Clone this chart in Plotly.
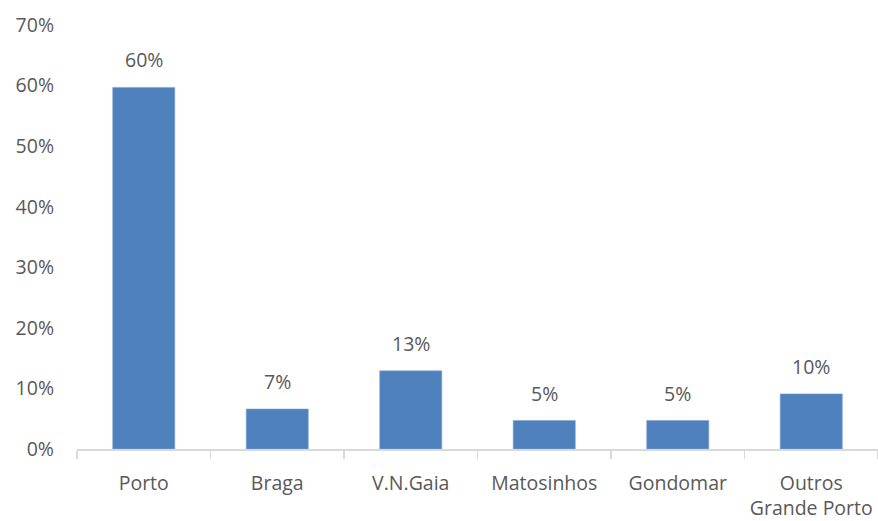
import plotly.graph_objects as go

categories = ["Porto", "Braga", "V.N.Gaia", "Matosinhos", "Gondomar", "Outros<br>Grande Porto"]
values = [0.597, 0.066, 0.129, 0.047, 0.047, 0.091]
value_labels = ["60%", "7%", "13%", "5%", "5%", "10%"]
y_ticks = [0, 0.1, 0.2, 0.3, 0.4, 0.5, 0.6, 0.7]
y_tick_labels = ["0%", "10%", "20%", "30%", "40%", "50%", "60%", "70%"]

FONT = "Open Sans"
TXT = "#595959"
FS = 19.5

fig = go.Figure()
fig.add_trace(go.Bar(
    x=categories, y=values, width=0.465,
    marker=dict(color="#4F81BD", line=dict(color="#7FA3D3", width=0.6)),
    hoverinfo="skip",
))
for c, v, t in zip(categories, values, value_labels):
    fig.add_annotation(x=c, y=v, text=t, showarrow=False, yanchor="bottom",
                       yshift=12, font=dict(family=FONT, size=FS, color=TXT))

fig.update_layout(
    width=878, height=521,
    margin=dict(l=77, r=0, t=25, b=72, autoexpand=False),
    plot_bgcolor="white", paper_bgcolor="white",
    showlegend=False,
    font=dict(family=FONT, size=FS, color=TXT),
)
fig.update_xaxes(
    showline=True, linecolor="#D9D9D9", linewidth=1.5,
    ticks="outside", ticklen=8, tickcolor="#D9D9D9", tickwidth=1.5,
    tickson="boundaries", ticklabelstandoff=16, tickangle=0, automargin=False,
    tickfont=dict(family=FONT, size=FS, color=TXT),
    showgrid=False, zeroline=False, fixedrange=True,
)
fig.update_yaxes(
    range=[0, 0.7], tickvals=y_ticks, ticktext=y_tick_labels,
    showgrid=False, zeroline=False, showline=False,
    ticks="", ticklabelstandoff=22, automargin=False,
    tickfont=dict(family=FONT, size=FS, color=TXT),
    fixedrange=True,
)
fig.write_html(
    "out.html",
    config={"displayModeBar": False, "staticPlot": True},
    post_script="document.body.style.margin='0';document.body.style.overflow='hidden';",
)
